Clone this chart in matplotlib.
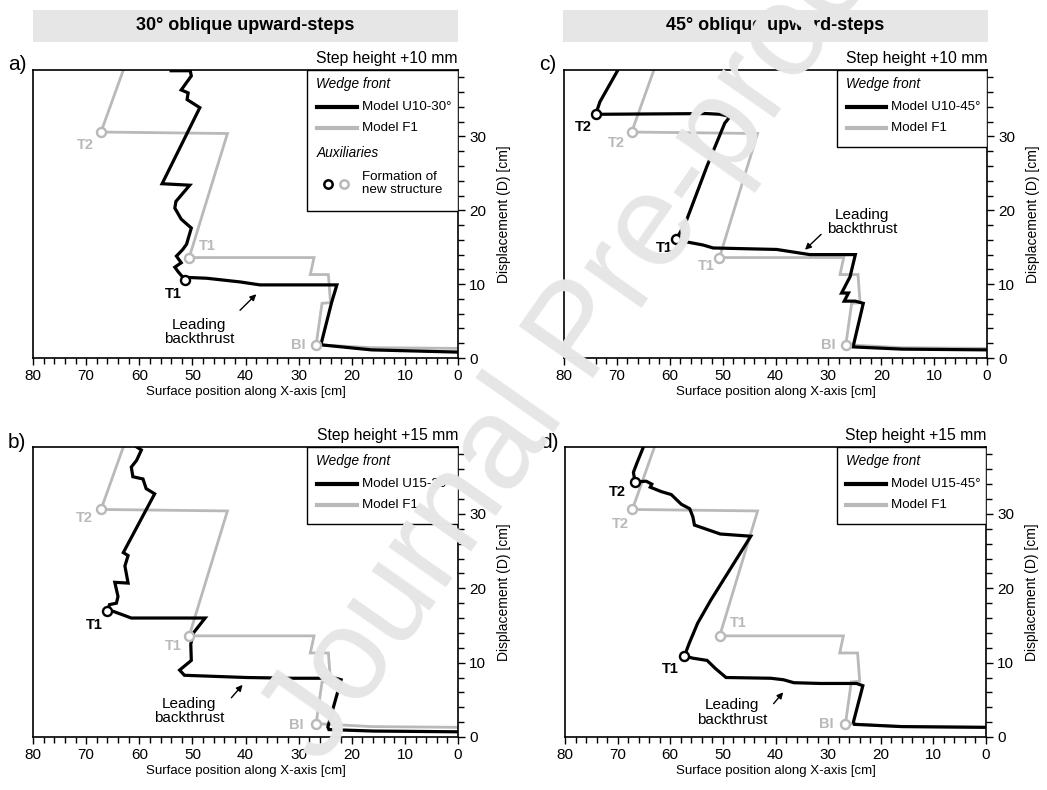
import matplotlib
matplotlib.use('Agg')
import matplotlib.pyplot as plt
from matplotlib.patches import Rectangle
from matplotlib.ticker import MultipleLocator

plt.rcParams['font.family'] = ['Liberation Sans Narrow', 'Liberation Sans', 'DejaVu Sans']

W, H = 1047, 790

# Model F1 (reference, same in every panel)
f1_x = [0, 16.3, 26.7, 25.6, 24.0, 24.4, 27.8, 27.1, 50.6, 43.4, 67.2, 63.0, 62.5]
f1_y = [1.3, 1.4, 1.8, 7.4, 7.5, 11.3, 11.3, 13.6, 13.6, 30.4, 30.6, 39.0, 41.0]
f1_mark_x = [26.7, 50.6, 67.2]
f1_mark_y = [1.8, 13.6, 30.6]

# a) U10-30
u10_30_x = [0, 16.3, 26.0, 25.7, 23.8, 22.8, 37.3, 41.0, 47.3, 50.6, 51.4, 52.7, 53.3, 52.1, 53.0,
            51.8, 51.1, 50.2, 52.1, 53.3, 53.1, 50.5, 55.7, 48.6, 51.0, 50.8, 52.1, 50.2, 50.4, 54.0]
u10_30_y = [0.8, 1.1, 1.8, 2.1, 7.5, 9.9, 9.9, 10.3, 10.8, 10.9, 10.6, 11.7, 12.3, 12.9, 13.8,
            14.7, 15.4, 17.6, 18.8, 20.3, 21.2, 23.4, 23.6, 33.9, 35.0, 35.9, 36.3, 38.2, 38.9, 38.9]
u10_30_mark_x = [51.4]
u10_30_mark_y = [10.6]

# c) U10-45
u10_45_x = [0, 16.0, 25.3, 25.3, 23.4, 24.9, 27.0, 26.2, 27.5, 25.9, 24.9, 33.5, 39.8, 51.8, 53.7,
            57.4, 58.8, 58.1, 56.8, 53.0, 49.6, 48.6, 50.5, 53.0, 74.0, 73.2, 69.8]
u10_45_y = [1.1, 1.2, 1.5, 1.6, 7.4, 7.7, 7.7, 8.8, 8.8, 11.0, 14.0, 14.0, 14.7, 14.9, 15.3,
            15.8, 16.1, 16.9, 18.7, 25.9, 31.8, 32.7, 33.0, 33.1, 33.0, 34.7, 39.0]
u10_45_mark_x = [58.8, 74.0]
u10_45_mark_y = [16.1, 33.0]

# b) U15-30
u15_30_x = [0, 16.0, 24.3, 24.5, 22.0, 23.0, 31.1, 39.8, 51.5, 52.4, 50.2, 50.3, 49.8, 47.6, 61.5,
            64.9, 66.0, 65.6, 64.3, 64.0, 64.6, 62.1, 62.7, 62.1, 63.0, 57.1, 58.7, 59.3, 61.2,
            61.5, 60.5, 59.6, 60.9]
u15_30_y = [0.7, 0.8, 1.0, 1.35, 7.7, 7.9, 7.9, 8.0, 8.3, 9.0, 10.3, 12.5, 14.0, 16.0, 16.0,
            16.9, 16.9, 17.8, 18.0, 18.9, 20.8, 20.7, 23.0, 24.4, 24.8, 32.7, 33.4, 34.7, 35.0,
            36.3, 37.2, 38.6, 39.2]
u15_30_mark_x = [66.0]
u15_30_mark_y = [16.9]

# d) U15-45
u15_45_x = [0, 16.0, 25.0, 25.2, 23.4, 24.6, 31.5, 36.5, 38.5, 40.9, 49.4, 51.4, 53.0, 55.7, 57.3,
            56.4, 54.8, 52.3, 44.7, 50.5, 55.4, 55.7, 56.3, 57.9, 59.8, 61.7, 63.8, 63.5, 64.3,
            64.6, 66.7, 67.0, 66.3, 65.1]
u15_45_y = [1.3, 1.4, 1.7, 2.0, 6.9, 7.2, 7.2, 7.3, 7.7, 7.9, 8.0, 9.2, 10.3, 10.6, 10.9,
            12.6, 15.3, 18.4, 27.0, 27.3, 28.5, 29.6, 30.7, 31.3, 32.6, 33.0, 33.6, 34.0, 34.3,
            34.4, 34.3, 35.6, 36.9, 39.0]
u15_45_mark_x = [57.3, 66.7]
u15_45_mark_y = [10.9, 34.3]

GRAY = '#b9b9b9'
LGRAY = '#e6e6e6'

fig = plt.figure(figsize=(W / 100, H / 100), dpi=100)


def px_axes(left, top, right, bottom):
    return fig.add_axes([left / W, 1 - bottom / H, (right - left) / W, (bottom - top) / H])


def panel(box, letter, step, model, mx, my, mkx, mky, labels, arrow, aux):
    left, top, right, bottom = box
    ax = px_axes(left, top, right, bottom)
    ax.set_xlim(80, 0)
    ax.set_ylim(0, 39)
    ax.plot(f1_x, f1_y, color=GRAY, lw=2.0, solid_joinstyle='miter', zorder=2)
    ax.plot(mx, my, color='black', lw=2.3, solid_joinstyle='miter', zorder=3)
    ax.plot(f1_mark_x, f1_mark_y, 'o', ms=6.5, mfc='white', mec=GRAY, mew=1.7, zorder=4)
    ax.plot(mkx, mky, 'o', ms=6.5, mfc='white', mec='black', mew=1.7, zorder=5)

    for txt, x, y, col in labels:
        ax.text(x, y, txt, color=col, fontsize=10.5, fontweight='bold', ha='center', va='center', zorder=6)

    (tx, ty), (hx, hy), (lx, ly) = arrow
    ax.annotate('', xy=(hx, hy), xytext=(tx, ty),
                arrowprops=dict(arrowstyle='-|>', color='black', lw=1.0, mutation_scale=9))
    ax.text(lx, ly, 'Leading\nbackthrust', fontsize=11, ha='center', va='center', linespacing=1.05)

    ax.xaxis.set_major_locator(MultipleLocator(10))
    ax.xaxis.set_minor_locator(MultipleLocator(2))
    ax.yaxis.set_major_locator(MultipleLocator(10))
    ax.yaxis.set_minor_locator(MultipleLocator(2))
    ax.yaxis.tick_right()
    ax.yaxis.set_label_position('right')
    ax.tick_params(axis='both', which='both', direction='out', width=1.0, labelsize=11)
    ax.tick_params(axis='both', which='major', length=5, pad=3)
    ax.tick_params(axis='both', which='minor', length=4)
    ax.tick_params(axis='y', left=False, right=True)
    for s in ax.spines.values():
        s.set_linewidth(1.2)
    ax.set_xlabel('Surface position along X-axis [cm]', fontsize=9.5, labelpad=2)
    ax.set_ylabel('Displacement (D) [cm]', fontsize=10, labelpad=8)

    # legend box drawn by hand
    lb = 0.51 if aux else 0.733
    ax.add_patch(Rectangle((0.645, lb), 0.355, 1 - lb, transform=ax.transAxes,
                           fc='white', ec='black', lw=1.0, zorder=7))
    ax.text(0.667, 0.951, 'Wedge front', style='italic', fontsize=9.8, transform=ax.transAxes,
            va='center', zorder=8)
    ax.plot([0.668, 0.762], [0.872, 0.872], color='black', lw=3, transform=ax.transAxes, zorder=8)
    ax.plot([0.668, 0.762], [0.799, 0.799], color=GRAY, lw=3, transform=ax.transAxes, zorder=8)
    ax.text(0.774, 0.872, model, fontsize=9.6, transform=ax.transAxes, va='center', zorder=8)
    ax.text(0.774, 0.799, 'Model F1', fontsize=9.6, transform=ax.transAxes, va='center', zorder=8)
    if aux:
        ax.text(0.667, 0.712, 'Auxiliaries', style='italic', fontsize=9.8, transform=ax.transAxes,
                va='center', zorder=8)
        ax.plot([0.694], [0.604], 'o', ms=6, mfc='white', mec='black', mew=1.8,
                transform=ax.transAxes, zorder=8)
        ax.plot([0.732], [0.604], 'o', ms=6, mfc='white', mec=GRAY, mew=1.8,
                transform=ax.transAxes, zorder=8)
        ax.text(0.774, 0.605, 'Formation of\nnew structure', fontsize=9.6, transform=ax.transAxes,
                va='center', linespacing=1.1, zorder=8)

    fig.text(right / W, 1 - (top - 12) / H, step, fontsize=11.3, ha='right', va='center')
    fig.text((left - 25) / W, 1 - (top - 5) / H, letter, fontsize=15, ha='left', va='center')
    return ax


# column headers
for x0, x1, title in [(33, 458, '30° oblique upward-steps'), (563, 988, '45° oblique upward-steps')]:
    fig.patches.append(Rectangle((x0 / W, 1 - 42 / H), (x1 - x0) / W, 32 / H,
                                 transform=fig.transFigure, fc=LGRAY, ec='none'))
    fig.text((x0 + x1) / 2 / W, 1 - 26 / H, title, fontsize=13, fontweight='bold',
             ha='center', va='center')

panel((33, 70, 458, 358), 'a)', 'Step height +10 mm', 'Model U10-30°',
      u10_30_x, u10_30_y, u10_30_mark_x, u10_30_mark_y,
      [('T1', 53.6, 8.6, 'black'), ('T1', 47.1, 15.2, GRAY), ('T2', 70.1, 28.8, GRAY),
       ('BI', 30.0, 1.8, GRAY)],
      ((41.4, 6.2), (37.6, 8.9), (48.8, 3.5)), True)

panel((564, 70, 987, 358), 'c)', 'Step height +10 mm', 'Model U10-45°',
      u10_45_x, u10_45_y, u10_45_mark_x, u10_45_mark_y,
      [('T1', 61.1, 14.9, 'black'), ('T2', 76.4, 31.3, 'black'), ('T1', 53.0, 12.4, GRAY),
       ('T2', 70.1, 29.1, GRAY), ('BI', 30.0, 1.7, GRAY)],
      ((31.0, 17.0), (34.8, 14.4), (23.6, 18.4)), False)

panel((33, 447, 458, 737), 'b)', 'Step height +15 mm', 'Model U15-30°',
      u15_30_x, u15_30_y, u15_30_mark_x, u15_30_mark_y,
      [('T1', 68.4, 15.1, 'black'), ('T1', 53.6, 12.2, GRAY), ('T2', 70.3, 29.4, GRAY),
       ('BI', 30.5, 1.6, GRAY)],
      ((43.0, 5.0), (40.2, 7.3), (50.6, 3.5)), False)

panel((565, 447, 986, 737), 'd)', 'Step height +15 mm', 'Model U15-45°',
      u15_45_x, u15_45_y, u15_45_mark_x, u15_45_mark_y,
      [('T1', 60.0, 9.1, 'black'), ('T2', 70.1, 32.9, 'black'), ('T1', 47.0, 15.3, GRAY),
       ('T2', 69.5, 28.7, GRAY), ('BI', 30.4, 1.7, GRAY)],
      ((40.7, 4.2), (38.2, 6.3), (48.3, 3.3)), False)

# watermark
fig.text(582 / W, 1 - 334 / H, 'Journal Pre-proof', fontsize=94, color=LGRAY, rotation=55,
         ha='center', va='center', rotation_mode='anchor', zorder=100,
         family=['Liberation Sans', 'DejaVu Sans'])

fig.savefig('out.png', dpi=100)
